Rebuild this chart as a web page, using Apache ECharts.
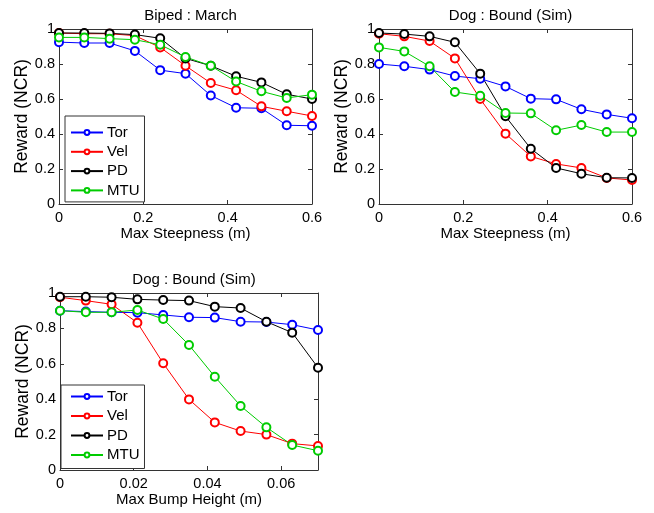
<!DOCTYPE html>
<html><head><meta charset="utf-8">
<script src="https://cdn.jsdelivr.net/npm/echarts@6/dist/echarts.min.js"></script>
<style>html,body{margin:0;padding:0;background:#fff}#c{width:654px;height:513px}</style>
</head><body><div id="c"></div>
<script>
const seriesNames = ['Tor', 'Vel', 'PD', 'MTU'];
const seriesColors = ['#0000ff', '#ff0000', '#000000', '#00cc00'];

const titles = ['Biped : March', 'Dog : Bound (Sim)', 'Dog : Bound (Sim)'];
const xNames = ['Max Steepness (m)', 'Max Steepness (m)', 'Max Bump Height (m)'];
const yName = 'Reward (NCR)';

const steepX = [0, 0.06, 0.12, 0.18, 0.24, 0.30, 0.36, 0.42, 0.48, 0.54, 0.60];
const bumpX = [0, 0.007, 0.014, 0.021, 0.028, 0.035, 0.042, 0.049, 0.056, 0.063, 0.070];

// Plot 1: Biped : March
const bipedTor = [0.925, 0.92, 0.92, 0.875, 0.765, 0.745, 0.62, 0.55, 0.547, 0.45, 0.447];
const bipedVel = [0.977, 0.973, 0.973, 0.962, 0.895, 0.79, 0.691, 0.65, 0.558, 0.53, 0.503];
const bipedPD  = [0.977, 0.977, 0.975, 0.968, 0.947, 0.832, 0.79, 0.73, 0.695, 0.627, 0.6];
const bipedMTU = [0.952, 0.952, 0.945, 0.939, 0.91, 0.84, 0.79, 0.70, 0.644, 0.606, 0.625];

// Plot 2: Dog : Bound (Sim), steepness
const dogSteepTor = [0.8, 0.787, 0.768, 0.731, 0.716, 0.672, 0.602, 0.598, 0.541, 0.512, 0.49];
const dogSteepVel = [0.973, 0.958, 0.931, 0.832, 0.6, 0.402, 0.272, 0.229, 0.206, 0.149, 0.137];
const dogSteepPD  = [0.977, 0.971, 0.958, 0.924, 0.745, 0.501, 0.316, 0.206, 0.173, 0.15, 0.149];
const dogSteepMTU = [0.895, 0.872, 0.787, 0.64, 0.619, 0.52, 0.518, 0.421, 0.451, 0.411, 0.411];

// Plot 3: Dog : Bound (Sim), bump height
const dogBumpTor = [0.9, 0.895, 0.891, 0.889, 0.876, 0.863, 0.861, 0.838, 0.836, 0.821, 0.791];
const dogBumpVel = [0.976, 0.957, 0.936, 0.832, 0.603, 0.399, 0.269, 0.22, 0.2, 0.149, 0.136];
const dogBumpPD  = [0.979, 0.979, 0.976, 0.964, 0.96, 0.957, 0.923, 0.915, 0.838, 0.776, 0.578];
const dogBumpMTU = [0.9, 0.891, 0.891, 0.904, 0.853, 0.706, 0.527, 0.362, 0.241, 0.141, 0.109];

const yTicks = { min: 0, max: 1, interval: 0.2 };
const steepTicks = { min: 0, max: 0.6, interval: 0.2 };
const bumpTicks = { min: 0, max: 0.07, interval: 0.02 };

const plots = [
  { x: steepX, ticks: steepTicks, data: [bipedTor, bipedVel, bipedPD, bipedMTU] },
  { x: steepX, ticks: steepTicks, data: [dogSteepTor, dogSteepVel, dogSteepPD, dogSteepMTU] },
  { x: bumpX, ticks: bumpTicks, data: [dogBumpTor, dogBumpVel, dogBumpPD, dogBumpMTU] }
];

const FONT = 'Liberation Sans, Arial, sans-serif';
const gridBoxes = [
  { left: 59, top: 29, width: 253, height: 175 },
  { left: 379, top: 29, width: 253, height: 175 },
  { left: 60, top: 293, width: 258, height: 177 }
];
const axisColor = '#333';

function fmt(v) {
  if (Math.abs(v) < 1e-9) return '0';
  if (Math.abs(v - 1) < 1e-9) return '1';
  return String(parseFloat(v.toFixed(3)));
}

const grid = gridBoxes.map(g => Object.assign({ containLabel: false }, g));
const xAxis = [], yAxis = [], series = [];

plots.forEach((p, i) => {
  xAxis.push({
    type: 'value', gridIndex: i, position: 'bottom',
    min: p.ticks.min, max: p.ticks.max, interval: p.ticks.interval,
    name: xNames[i], nameLocation: 'middle', nameGap: 20,
    nameTextStyle: { fontFamily: FONT, fontSize: 15, color: '#000', verticalAlign: 'top' },
    axisLine: { show: true, onZero: false, lineStyle: { color: axisColor, width: 1 } },
    axisTick: { show: true, inside: true, length: 4, lineStyle: { color: axisColor } },
    axisLabel: { show: true, fontFamily: FONT, fontSize: 14.5, color: '#000', margin: 6,
      showMaxLabel: i === 2 ? false : true, formatter: fmt },
    splitLine: { show: false }
  });
  xAxis.push({
    type: 'value', gridIndex: i, position: 'top',
    min: p.ticks.min, max: p.ticks.max, interval: p.ticks.interval,
    axisLine: { show: true, onZero: false, lineStyle: { color: axisColor, width: 1 } },
    axisTick: { show: true, inside: true, length: 4, lineStyle: { color: axisColor } },
    axisLabel: { show: false }, splitLine: { show: false }
  });
  yAxis.push({
    type: 'value', gridIndex: i, position: 'left',
    min: yTicks.min, max: yTicks.max, interval: yTicks.interval,
    name: yName, nameLocation: 'middle', nameGap: 27, nameRotate: 90,
    nameTextStyle: { fontFamily: FONT, fontSize: 17.5, color: '#000' },
    axisLine: { show: true, onZero: false, lineStyle: { color: axisColor, width: 1 } },
    axisTick: { show: true, inside: true, length: 4, lineStyle: { color: axisColor } },
    axisLabel: { show: true, fontFamily: FONT, fontSize: 14.5, color: '#000', margin: 4, formatter: fmt },
    splitLine: { show: false }
  });
  yAxis.push({
    type: 'value', gridIndex: i, position: 'right',
    min: yTicks.min, max: yTicks.max, interval: yTicks.interval,
    axisLine: { show: true, onZero: false, lineStyle: { color: axisColor, width: 1 } },
    axisTick: { show: true, inside: true, length: 4, lineStyle: { color: axisColor } },
    axisLabel: { show: false }, splitLine: { show: false }
  });
  seriesNames.forEach((name, k) => {
    series.push({
      name: name, type: 'line',
      xAxisIndex: i * 2, yAxisIndex: i * 2,
      data: p.x.map((xv, j) => [xv, p.data[k][j]]),
      symbol: 'emptyCircle', symbolSize: 8, showAllSymbol: true,
      color: seriesColors[k],
      lineStyle: { width: 1, color: seriesColors[k] },
      itemStyle: { color: seriesColors[k], borderColor: seriesColors[k], borderWidth: 1 },
      emphasis: { disabled: true }, animation: false
    });
  });
});

const legendBase = {
  orient: 'vertical', data: seriesNames,
  backgroundColor: '#fff', borderColor: axisColor, borderWidth: 1, borderRadius: 0,
  itemWidth: 32, itemHeight: 6, itemGap: 4.3,
  textStyle: { fontFamily: FONT, fontSize: 15, color: '#000', padding: [0, 0, 0, -1] },
  selectedMode: false
};
const legend = [
  Object.assign({}, legendBase, { left: 65, top: 116, padding: [9, 5, 4, 5] }),
  Object.assign({}, legendBase, { left: 61, top: 385, itemGap: 4.5, padding: [4, 5, 6, 9] })
];

const titleCenters = [
  { x: 185.5, y: 3 }, { x: 505.5, y: 3 }, { x: 189, y: 267 }
];
const title = titles.map((t, i) => ({
  text: t, left: titleCenters[i].x, top: titleCenters[i].y, textAlign: 'center',
  textStyle: { fontFamily: FONT, fontSize: 15, fontWeight: 'normal', color: '#000' }
}));

const chart = echarts.init(document.getElementById('c'), null, { renderer: 'canvas' });
chart.setOption({
  animation: false, backgroundColor: '#fff',
  title, grid, xAxis, yAxis, legend, series
});
</script></body></html>
